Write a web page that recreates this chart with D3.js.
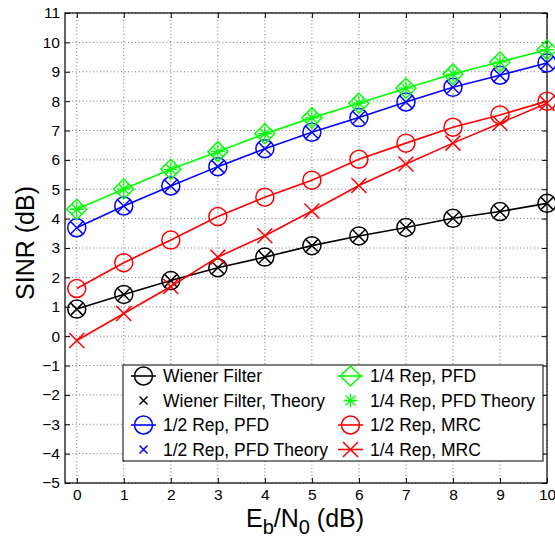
<!DOCTYPE html>
<html><head><meta charset="utf-8">
<script src="https://cdn.jsdelivr.net/npm/d3@7"></script>
<style>body{margin:0;background:#fff}svg{display:block;font-family:"Liberation Sans",Arial,Helvetica,sans-serif}</style>
</head><body>
<svg id="c" width="555" height="540"></svg>
<script>
const ebn0 = [0,1,2,3,4,5,6,7,8,9,10];
const xTicks = [0,1,2,3,4,5,6,7,8,9,10];
const yTicks = [-5,-4,-3,-2,-1,0,1,2,3,4,5,6,7,8,9,10,11];
const wiener          = [0.92,1.42,1.89,2.33,2.69,3.08,3.41,3.70,4.01,4.24,4.52];
const wienerTheory    = [0.92,1.42,1.89,2.33,2.69,3.08,3.41,3.70,4.01,4.24,4.52];
const halfPFD         = [3.69,4.43,5.11,5.77,6.38,6.94,7.44,7.97,8.47,8.88,9.30];
const halfPFDTheory   = [3.69,4.43,5.11,5.77,6.38,6.94,7.44,7.97,8.47,8.88,9.30];
const quarterPFD      = [4.32,5.01,5.68,6.28,6.89,7.43,7.93,8.44,8.92,9.33,9.75];
const quarterPFDTheory= [4.32,5.01,5.68,6.28,6.89,7.43,7.93,8.44,8.92,9.33,9.75];
const halfMRC         = [1.62,2.50,3.27,4.07,4.73,5.31,6.02,6.57,7.11,7.53,8.00];
const quarterMRC      = [-0.15,0.77,1.69,2.69,3.42,4.26,5.13,5.86,6.57,7.25,7.93];

const series = [
  {name:"Wiener Filter", values:wiener, color:"#000", marker:"circle", line:true},
  {name:"Wiener Filter, Theory", values:wienerTheory, color:"#000", marker:"x", line:false},
  {name:"1/2 Rep, PFD", values:halfPFD, color:"#0000ff", marker:"circle", line:true},
  {name:"1/2 Rep, PFD Theory", values:halfPFDTheory, color:"#0000ff", marker:"x", line:false},
  {name:"1/4 Rep, PFD", values:quarterPFD, color:"#00ff00", marker:"diamond", line:true},
  {name:"1/4 Rep, PFD Theory", values:quarterPFDTheory, color:"#00ff00", marker:"star", line:false},
  {name:"1/2 Rep, MRC", values:halfMRC, color:"#ff0000", marker:"circle", line:true},
  {name:"1/4 Rep, MRC", values:quarterMRC, color:"#ff0000", marker:"bigx", line:true}
];

const L=65, R=547, T=13, B=483;
const svg = d3.select("#c");
const x = d3.scaleLinear().domain([-0.25,10]).range([L,R]);
const y = d3.scaleLinear().domain([-5,11]).range([B,T]);

// grid
const g = svg.append("g");
g.selectAll(".gx").data(xTicks).enter().append("line")
  .attr("x1",d=>x(d)).attr("x2",d=>x(d)).attr("y1",T).attr("y2",B)
  .attr("stroke","#555").attr("stroke-width",0.8).attr("stroke-dasharray","1,2.5");
g.selectAll(".gy").data(yTicks).enter().append("line")
  .attr("y1",d=>y(d)).attr("y2",d=>y(d)).attr("x1",L).attr("x2",R)
  .attr("stroke","#555").attr("stroke-width",0.8).attr("stroke-dasharray","1,2.5");

// axes
const fmt = d => d<0 ? "\u2212"+Math.abs(d) : String(d);
const ax = svg.append("g").attr("transform",`translate(0,${B})`)
  .call(d3.axisBottom(x).tickValues(xTicks).tickSize(-5).tickPadding(6).tickFormat(fmt));
const ay = svg.append("g").attr("transform",`translate(${L},0)`)
  .call(d3.axisLeft(y).tickValues(yTicks).tickSize(-5).tickPadding(5).tickFormat(fmt));
const axT = svg.append("g").attr("transform",`translate(0,${T})`)
  .call(d3.axisTop(x).tickValues(xTicks).tickSize(-5).tickFormat(""));
const axR = svg.append("g").attr("transform",`translate(${R},0)`)
  .call(d3.axisRight(y).tickValues(yTicks).tickSize(-5).tickFormat(""));
[ax,ay,axT,axR].forEach(a=>{
  a.select(".domain").remove();
  a.selectAll("line").attr("stroke","#000");
  a.selectAll("text").attr("font-size",15.5).attr("fill","#000").attr("font-family","Liberation Sans, Arial, sans-serif");
});
svg.append("rect").attr("x",L).attr("y",T).attr("width",R-L).attr("height",B-T)
  .attr("fill","none").attr("stroke","#000").attr("stroke-width",1.2);

// markers
function drawMarker(sel, type, cx, cy, color){
  if(type==="circle"){
    sel.append("circle").attr("cx",cx).attr("cy",cy).attr("r",9)
      .attr("fill","none").attr("stroke",color).attr("stroke-width",1.5);
  } else if(type==="diamond"){
    const s=10;
    sel.append("path").attr("d",`M${cx},${cy-s}L${cx+s},${cy}L${cx},${cy+s}L${cx-s},${cy}Z`)
      .attr("fill","none").attr("stroke",color).attr("stroke-width",1.5);
  } else if(type==="x" || type==="bigx" || type==="smallx"){
    const s= type==="x"?6:(type==="bigx"?7.5:4);
    sel.append("path").attr("d",`M${cx-s},${cy-s}L${cx+s},${cy+s}M${cx-s},${cy+s}L${cx+s},${cy-s}`)
      .attr("fill","none").attr("stroke",color).attr("stroke-width",1.5);
  } else if(type==="star"){
    const s=7, d=s*0.72;
    sel.append("path").attr("d",`M${cx-s},${cy}L${cx+s},${cy}M${cx},${cy-s}L${cx},${cy+s}M${cx-d},${cy-d}L${cx+d},${cy+d}M${cx-d},${cy+d}L${cx+d},${cy-d}`)
      .attr("fill","none").attr("stroke",color).attr("stroke-width",1.3);
  }
}

const plot = svg.append("g");
const line = d3.line().x((d,i)=>x(ebn0[i])).y(d=>y(d));
series.forEach(s=>{
  if(s.line) plot.append("path").attr("d",line(s.values)).attr("fill","none")
    .attr("stroke",s.color).attr("stroke-width",1.6);
  s.values.forEach((v,i)=>drawMarker(plot, s.marker, x(ebn0[i]), y(v), s.color));
});

// legend
const lg = svg.append("g");
lg.append("rect").attr("x",123).attr("y",365).attr("width",420).attr("height",96)
  .attr("fill","#fff").attr("stroke","#000").attr("stroke-width",1);
const colX=[143.5,350.5], textX=[163,370], rowY=[376,400.5,425,449.5];
series.forEach((s,k)=>{
  const c = Math.floor(k/4), r = k%4;
  const cx=colX[c], cy=rowY[r];
  if(s.line) lg.append("line").attr("x1",cx-12.5).attr("x2",cx+12.5).attr("y1",cy).attr("y2",cy)
    .attr("stroke",s.color).attr("stroke-width",1.6);
  drawMarker(lg, s.marker==="x"?"smallx":s.marker, cx, cy, s.color);
  lg.append("text").attr("x",textX[c]).attr("y",cy+6).attr("font-size",17.5)
    .attr("fill","#000").text(s.name);
});

// axis labels
svg.append("text").attr("transform","translate(34,243) rotate(-90)")
  .attr("text-anchor","middle").attr("font-size",25).attr("fill","#000").text("SINR (dB)");
const xl = svg.append("text").attr("x",305).attr("y",527).attr("text-anchor","middle")
  .attr("font-size",25).attr("fill","#000");
xl.append("tspan").text("E");
xl.append("tspan").attr("font-size",20).attr("dy",7).text("b");
xl.append("tspan").attr("dy",-7).text("/N");
xl.append("tspan").attr("font-size",20).attr("dy",7).text("0");
xl.append("tspan").attr("dy",-7).text(" (dB)");
</script>
</body></html>
